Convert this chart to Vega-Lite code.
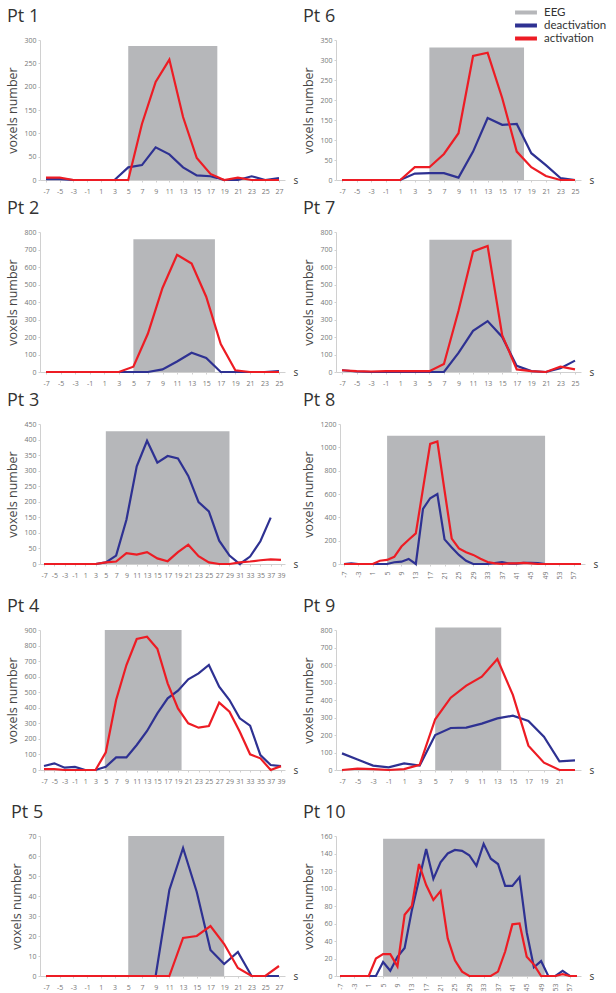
{
  "padding": {"left": 6, "top": 6, "right": 2, "bottom": 2},
  "datasets": {
    "eeg": [
      {"pt": "Pt 1", "series": "EEG", "s": 5, "s2": 18, "v": 287},
      {"pt": "Pt 2", "series": "EEG", "s": 5, "s2": 16.2, "v": 758},
      {"pt": "Pt 3", "series": "EEG", "s": 5, "s2": 29, "v": 427},
      {"pt": "Pt 4", "series": "EEG", "s": 4.8, "s2": 19.7, "v": 900},
      {"pt": "Pt 5", "series": "EEG", "s": 5, "s2": 19, "v": 70},
      {"pt": "Pt 6", "series": "EEG", "s": 5, "s2": 18, "v": 331},
      {"pt": "Pt 7", "series": "EEG", "s": 5, "s2": 16.3, "v": 756},
      {"pt": "Pt 8", "series": "EEG", "s": 5, "s2": 49, "v": 1100},
      {"pt": "Pt 9", "series": "EEG", "s": 5, "s2": 13.5, "v": 815},
      {"pt": "Pt 10", "series": "EEG", "s": 5, "s2": 50, "v": 157}
    ],
    "curves": [
      {"pt": "Pt 1", "s": -7, "deactivation": 2, "activation": 5},
      {"pt": "Pt 1", "s": -5, "deactivation": 2, "activation": 5},
      {"pt": "Pt 1", "s": -3, "deactivation": 0, "activation": 0},
      {"pt": "Pt 1", "s": -1, "deactivation": 0, "activation": 0},
      {"pt": "Pt 1", "s": 1, "deactivation": 0, "activation": 0},
      {"pt": "Pt 1", "s": 3, "deactivation": 0, "activation": 0},
      {"pt": "Pt 1", "s": 5, "deactivation": 27, "activation": 0},
      {"pt": "Pt 1", "s": 7, "deactivation": 32, "activation": 120},
      {"pt": "Pt 1", "s": 9, "deactivation": 70, "activation": 210},
      {"pt": "Pt 1", "s": 11, "deactivation": 55, "activation": 258},
      {"pt": "Pt 1", "s": 13, "deactivation": 27, "activation": 135},
      {"pt": "Pt 1", "s": 15, "deactivation": 10, "activation": 47},
      {"pt": "Pt 1", "s": 17, "deactivation": 8, "activation": 13},
      {"pt": "Pt 1", "s": 19, "deactivation": 0, "activation": 0},
      {"pt": "Pt 1", "s": 21, "deactivation": 0, "activation": 5},
      {"pt": "Pt 1", "s": 23, "deactivation": 8, "activation": 0},
      {"pt": "Pt 1", "s": 25, "deactivation": 0, "activation": 0},
      {"pt": "Pt 1", "s": 27, "deactivation": 4, "activation": 0},
      {"pt": "Pt 2", "s": -7, "deactivation": 0, "activation": 0},
      {"pt": "Pt 2", "s": -5, "deactivation": 0, "activation": 0},
      {"pt": "Pt 2", "s": -3, "deactivation": 0, "activation": 0},
      {"pt": "Pt 2", "s": -1, "deactivation": 0, "activation": 0},
      {"pt": "Pt 2", "s": 1, "deactivation": 0, "activation": 0},
      {"pt": "Pt 2", "s": 3, "deactivation": 0, "activation": 0},
      {"pt": "Pt 2", "s": 5, "deactivation": 0, "activation": 30},
      {"pt": "Pt 2", "s": 7, "deactivation": 0, "activation": 220},
      {"pt": "Pt 2", "s": 9, "deactivation": 15, "activation": 480},
      {"pt": "Pt 2", "s": 11, "deactivation": 60, "activation": 670},
      {"pt": "Pt 2", "s": 13, "deactivation": 110, "activation": 620},
      {"pt": "Pt 2", "s": 15, "deactivation": 80, "activation": 430},
      {"pt": "Pt 2", "s": 17, "deactivation": 0, "activation": 160},
      {"pt": "Pt 2", "s": 19, "deactivation": 0, "activation": 10},
      {"pt": "Pt 2", "s": 21, "deactivation": 0, "activation": 0},
      {"pt": "Pt 2", "s": 23, "deactivation": 0, "activation": 0},
      {"pt": "Pt 2", "s": 25, "deactivation": 5, "activation": 0},
      {"pt": "Pt 3", "s": -7, "deactivation": 0, "activation": 0},
      {"pt": "Pt 3", "s": -5, "deactivation": 0, "activation": 0},
      {"pt": "Pt 3", "s": -3, "deactivation": 0, "activation": 0},
      {"pt": "Pt 3", "s": -1, "deactivation": 0, "activation": 0},
      {"pt": "Pt 3", "s": 1, "deactivation": 0, "activation": 0},
      {"pt": "Pt 3", "s": 3, "deactivation": 0, "activation": 0},
      {"pt": "Pt 3", "s": 5, "deactivation": 5, "activation": 5},
      {"pt": "Pt 3", "s": 7, "deactivation": 27, "activation": 8},
      {"pt": "Pt 3", "s": 9, "deactivation": 142, "activation": 35},
      {"pt": "Pt 3", "s": 11, "deactivation": 314, "activation": 30},
      {"pt": "Pt 3", "s": 13, "deactivation": 396, "activation": 38},
      {"pt": "Pt 3", "s": 15, "deactivation": 326, "activation": 18},
      {"pt": "Pt 3", "s": 17, "deactivation": 347, "activation": 9},
      {"pt": "Pt 3", "s": 19, "deactivation": 339, "activation": 38},
      {"pt": "Pt 3", "s": 21, "deactivation": 283, "activation": 62},
      {"pt": "Pt 3", "s": 23, "deactivation": 199, "activation": 25},
      {"pt": "Pt 3", "s": 25, "deactivation": 169, "activation": 5},
      {"pt": "Pt 3", "s": 27, "deactivation": 75, "activation": 0},
      {"pt": "Pt 3", "s": 29, "deactivation": 27, "activation": 0},
      {"pt": "Pt 3", "s": 31, "deactivation": 0, "activation": 5},
      {"pt": "Pt 3", "s": 33, "deactivation": 24, "activation": 8},
      {"pt": "Pt 3", "s": 35, "deactivation": 73, "activation": 12},
      {"pt": "Pt 3", "s": 37, "deactivation": 149, "activation": 15},
      {"pt": "Pt 3", "s": 39, "activation": 13},
      {"pt": "Pt 4", "s": -7, "deactivation": 26, "activation": 5},
      {"pt": "Pt 4", "s": -5, "deactivation": 43, "activation": 5},
      {"pt": "Pt 4", "s": -3, "deactivation": 15, "activation": 0},
      {"pt": "Pt 4", "s": -1, "deactivation": 20, "activation": 0},
      {"pt": "Pt 4", "s": 1, "deactivation": 0, "activation": 0},
      {"pt": "Pt 4", "s": 3, "deactivation": 0, "activation": 0},
      {"pt": "Pt 4", "s": 5, "deactivation": 21, "activation": 114},
      {"pt": "Pt 4", "s": 7, "deactivation": 81, "activation": 450},
      {"pt": "Pt 4", "s": 9, "deactivation": 81, "activation": 675},
      {"pt": "Pt 4", "s": 11, "deactivation": 161, "activation": 842},
      {"pt": "Pt 4", "s": 13, "deactivation": 251, "activation": 857},
      {"pt": "Pt 4", "s": 15, "deactivation": 364, "activation": 780},
      {"pt": "Pt 4", "s": 17, "deactivation": 461, "activation": 557},
      {"pt": "Pt 4", "s": 19, "deactivation": 510, "activation": 396},
      {"pt": "Pt 4", "s": 21, "deactivation": 583, "activation": 300},
      {"pt": "Pt 4", "s": 23, "deactivation": 621, "activation": 272},
      {"pt": "Pt 4", "s": 25, "deactivation": 675, "activation": 283},
      {"pt": "Pt 4", "s": 27, "deactivation": 536, "activation": 433},
      {"pt": "Pt 4", "s": 29, "deactivation": 450, "activation": 375},
      {"pt": "Pt 4", "s": 31, "deactivation": 332, "activation": 246},
      {"pt": "Pt 4", "s": 33, "deactivation": 285, "activation": 101},
      {"pt": "Pt 4", "s": 35, "deactivation": 96, "activation": 75},
      {"pt": "Pt 4", "s": 37, "deactivation": 32, "activation": 0},
      {"pt": "Pt 4", "s": 39, "deactivation": 25, "activation": 25},
      {"pt": "Pt 5", "s": -7, "deactivation": 0, "activation": 0},
      {"pt": "Pt 5", "s": -5, "deactivation": 0, "activation": 0},
      {"pt": "Pt 5", "s": -3, "deactivation": 0, "activation": 0},
      {"pt": "Pt 5", "s": -1, "deactivation": 0, "activation": 0},
      {"pt": "Pt 5", "s": 1, "deactivation": 0, "activation": 0},
      {"pt": "Pt 5", "s": 3, "deactivation": 0, "activation": 0},
      {"pt": "Pt 5", "s": 5, "deactivation": 0, "activation": 0},
      {"pt": "Pt 5", "s": 7, "deactivation": 0, "activation": 0},
      {"pt": "Pt 5", "s": 9, "deactivation": 0, "activation": 0},
      {"pt": "Pt 5", "s": 11, "deactivation": 43, "activation": 0},
      {"pt": "Pt 5", "s": 13, "deactivation": 64, "activation": 19},
      {"pt": "Pt 5", "s": 15, "deactivation": 42, "activation": 20},
      {"pt": "Pt 5", "s": 17, "deactivation": 13, "activation": 25},
      {"pt": "Pt 5", "s": 19, "deactivation": 6, "activation": 16},
      {"pt": "Pt 5", "s": 21, "deactivation": 12, "activation": 4},
      {"pt": "Pt 5", "s": 23, "deactivation": 0, "activation": 0},
      {"pt": "Pt 5", "s": 25, "deactivation": 0, "activation": 0},
      {"pt": "Pt 5", "s": 27, "deactivation": 0, "activation": 5},
      {"pt": "Pt 6", "s": -7, "deactivation": 0, "activation": 0},
      {"pt": "Pt 6", "s": -5, "deactivation": 0, "activation": 0},
      {"pt": "Pt 6", "s": -3, "deactivation": 0, "activation": 0},
      {"pt": "Pt 6", "s": -1, "deactivation": 0, "activation": 0},
      {"pt": "Pt 6", "s": 1, "deactivation": 0, "activation": 0},
      {"pt": "Pt 6", "s": 3, "deactivation": 16, "activation": 32},
      {"pt": "Pt 6", "s": 5, "deactivation": 17, "activation": 32},
      {"pt": "Pt 6", "s": 7, "deactivation": 17, "activation": 65},
      {"pt": "Pt 6", "s": 9, "deactivation": 6, "activation": 117},
      {"pt": "Pt 6", "s": 11, "deactivation": 71, "activation": 310},
      {"pt": "Pt 6", "s": 13, "deactivation": 155, "activation": 318},
      {"pt": "Pt 6", "s": 15, "deactivation": 138, "activation": 205},
      {"pt": "Pt 6", "s": 17, "deactivation": 140, "activation": 71},
      {"pt": "Pt 6", "s": 19, "deactivation": 67, "activation": 32},
      {"pt": "Pt 6", "s": 21, "deactivation": 37, "activation": 10},
      {"pt": "Pt 6", "s": 23, "deactivation": 5, "activation": 0},
      {"pt": "Pt 6", "s": 25, "deactivation": 0, "activation": 0},
      {"pt": "Pt 7", "s": -7, "deactivation": 10, "activation": 10},
      {"pt": "Pt 7", "s": -5, "deactivation": 3, "activation": 5},
      {"pt": "Pt 7", "s": -3, "deactivation": 0, "activation": 3},
      {"pt": "Pt 7", "s": -1, "deactivation": 0, "activation": 5},
      {"pt": "Pt 7", "s": 1, "deactivation": 0, "activation": 5},
      {"pt": "Pt 7", "s": 3, "deactivation": 0, "activation": 5},
      {"pt": "Pt 7", "s": 5, "deactivation": 0, "activation": 5},
      {"pt": "Pt 7", "s": 7, "deactivation": 0, "activation": 46},
      {"pt": "Pt 7", "s": 9, "deactivation": 109, "activation": 350},
      {"pt": "Pt 7", "s": 11, "deactivation": 235, "activation": 689},
      {"pt": "Pt 7", "s": 13, "deactivation": 291, "activation": 720},
      {"pt": "Pt 7", "s": 15, "deactivation": 200, "activation": 210},
      {"pt": "Pt 7", "s": 17, "deactivation": 35, "activation": 15},
      {"pt": "Pt 7", "s": 19, "deactivation": 5, "activation": 5},
      {"pt": "Pt 7", "s": 21, "deactivation": 0, "activation": 0},
      {"pt": "Pt 7", "s": 23, "deactivation": 22, "activation": 30},
      {"pt": "Pt 7", "s": 25, "deactivation": 65, "activation": 15},
      {"pt": "Pt 8", "s": -7, "deactivation": 0, "activation": 0},
      {"pt": "Pt 8", "s": -5, "deactivation": 5, "activation": 0},
      {"pt": "Pt 8", "s": -3, "deactivation": 0, "activation": 0},
      {"pt": "Pt 8", "s": -1, "deactivation": 0, "activation": 0},
      {"pt": "Pt 8", "s": 1, "deactivation": 0, "activation": 0},
      {"pt": "Pt 8", "s": 3, "deactivation": 0, "activation": 28},
      {"pt": "Pt 8", "s": 5, "deactivation": 0, "activation": 35},
      {"pt": "Pt 8", "s": 7, "deactivation": 15, "activation": 62},
      {"pt": "Pt 8", "s": 9, "deactivation": 20, "activation": 150},
      {"pt": "Pt 8", "s": 11, "deactivation": 44, "activation": 208},
      {"pt": "Pt 8", "s": 13, "deactivation": 0, "activation": 262},
      {"pt": "Pt 8", "s": 15, "deactivation": 472, "activation": 646},
      {"pt": "Pt 8", "s": 17, "deactivation": 564, "activation": 1030},
      {"pt": "Pt 8", "s": 19, "deactivation": 600, "activation": 1050},
      {"pt": "Pt 8", "s": 21, "deactivation": 211, "activation": 630},
      {"pt": "Pt 8", "s": 23, "deactivation": 142, "activation": 217},
      {"pt": "Pt 8", "s": 25, "deactivation": 78, "activation": 133},
      {"pt": "Pt 8", "s": 27, "deactivation": 28, "activation": 100},
      {"pt": "Pt 8", "s": 29, "deactivation": 0, "activation": 78},
      {"pt": "Pt 8", "s": 31, "deactivation": 0, "activation": 45},
      {"pt": "Pt 8", "s": 33, "deactivation": 0, "activation": 17},
      {"pt": "Pt 8", "s": 35, "deactivation": 8, "activation": 5},
      {"pt": "Pt 8", "s": 37, "deactivation": 17, "activation": 0},
      {"pt": "Pt 8", "s": 39, "deactivation": 3, "activation": 5},
      {"pt": "Pt 8", "s": 41, "deactivation": 3, "activation": 5},
      {"pt": "Pt 8", "s": 43, "deactivation": 10, "activation": 10},
      {"pt": "Pt 8", "s": 45, "deactivation": 10, "activation": 5},
      {"pt": "Pt 8", "s": 47, "deactivation": 8, "activation": 0},
      {"pt": "Pt 8", "s": 49, "deactivation": 0, "activation": 0},
      {"pt": "Pt 8", "s": 51, "deactivation": 0, "activation": 0},
      {"pt": "Pt 8", "s": 53, "deactivation": 0, "activation": 0},
      {"pt": "Pt 8", "s": 55, "deactivation": 0, "activation": 0},
      {"pt": "Pt 8", "s": 57, "deactivation": 0, "activation": 0},
      {"pt": "Pt 8", "s": 59, "deactivation": 0, "activation": 0},
      {"pt": "Pt 9", "s": -7, "deactivation": 95, "activation": 0},
      {"pt": "Pt 9", "s": -5, "deactivation": 60, "activation": 8},
      {"pt": "Pt 9", "s": -3, "deactivation": 25, "activation": 5},
      {"pt": "Pt 9", "s": -1, "deactivation": 15, "activation": 0},
      {"pt": "Pt 9", "s": 1, "deactivation": 38, "activation": 5},
      {"pt": "Pt 9", "s": 3, "deactivation": 25, "activation": 29},
      {"pt": "Pt 9", "s": 5, "deactivation": 200, "activation": 290},
      {"pt": "Pt 9", "s": 7, "deactivation": 240, "activation": 413},
      {"pt": "Pt 9", "s": 9, "deactivation": 242, "activation": 482},
      {"pt": "Pt 9", "s": 11, "deactivation": 265, "activation": 533},
      {"pt": "Pt 9", "s": 13, "deactivation": 295, "activation": 634},
      {"pt": "Pt 9", "s": 15, "deactivation": 310, "activation": 429},
      {"pt": "Pt 9", "s": 17, "deactivation": 280, "activation": 139},
      {"pt": "Pt 9", "s": 19, "deactivation": 190, "activation": 42},
      {"pt": "Pt 9", "s": 21, "deactivation": 50, "activation": 0},
      {"pt": "Pt 9", "s": 23, "deactivation": 55, "activation": 0},
      {"pt": "Pt 10", "s": -7, "deactivation": 0, "activation": 0},
      {"pt": "Pt 10", "s": -5, "deactivation": 0, "activation": 0},
      {"pt": "Pt 10", "s": -3, "deactivation": 0, "activation": 0},
      {"pt": "Pt 10", "s": -1, "deactivation": 0, "activation": 0},
      {"pt": "Pt 10", "s": 1, "deactivation": 0, "activation": 0},
      {"pt": "Pt 10", "s": 3, "deactivation": 0, "activation": 20},
      {"pt": "Pt 10", "s": 5, "deactivation": 16, "activation": 25},
      {"pt": "Pt 10", "s": 7, "deactivation": 6, "activation": 25},
      {"pt": "Pt 10", "s": 9, "deactivation": 22, "activation": 11},
      {"pt": "Pt 10", "s": 11, "deactivation": 32, "activation": 70},
      {"pt": "Pt 10", "s": 13, "deactivation": 75, "activation": 80},
      {"pt": "Pt 10", "s": 15, "deactivation": 110, "activation": 128},
      {"pt": "Pt 10", "s": 17, "deactivation": 145, "activation": 104},
      {"pt": "Pt 10", "s": 19, "deactivation": 111, "activation": 87},
      {"pt": "Pt 10", "s": 21, "deactivation": 130, "activation": 97},
      {"pt": "Pt 10", "s": 23, "deactivation": 140, "activation": 43},
      {"pt": "Pt 10", "s": 25, "deactivation": 144, "activation": 18},
      {"pt": "Pt 10", "s": 27, "deactivation": 143, "activation": 5},
      {"pt": "Pt 10", "s": 29, "deactivation": 138, "activation": 0},
      {"pt": "Pt 10", "s": 31, "deactivation": 126, "activation": 0},
      {"pt": "Pt 10", "s": 33, "deactivation": 151, "activation": 0},
      {"pt": "Pt 10", "s": 35, "deactivation": 134, "activation": 0},
      {"pt": "Pt 10", "s": 37, "deactivation": 128, "activation": 5},
      {"pt": "Pt 10", "s": 39, "deactivation": 103, "activation": 28},
      {"pt": "Pt 10", "s": 41, "deactivation": 103, "activation": 59},
      {"pt": "Pt 10", "s": 43, "deactivation": 113, "activation": 60},
      {"pt": "Pt 10", "s": 45, "deactivation": 50, "activation": 22},
      {"pt": "Pt 10", "s": 47, "deactivation": 10, "activation": 13},
      {"pt": "Pt 10", "s": 49, "deactivation": 17, "activation": 0},
      {"pt": "Pt 10", "s": 51, "deactivation": 0, "activation": 0},
      {"pt": "Pt 10", "s": 53, "deactivation": 0, "activation": 0},
      {"pt": "Pt 10", "s": 55, "deactivation": 6, "activation": 2},
      {"pt": "Pt 10", "s": 57, "deactivation": 0, "activation": 0},
      {"pt": "Pt 10", "s": 59, "deactivation": 0, "activation": 0}
    ]
  },
  "resolve": {"scale": {"color": "shared"}, "legend": {"color": "shared"}},
  "spacing": 18,
  "vconcat": [
    {
      "spacing": 6,
      "resolve": {"scale": {"color": "shared"}, "legend": {"color": "shared"}},
      "vconcat": [
        {
          "spacing": 4,
          "resolve": {"scale": {"color": "shared"}, "legend": {"color": "shared"}},
          "hconcat": [
            {
              "title": "Pt 1", "width": 245, "height": 140,
              "encoding": {
                "x": {"field": "s", "type": "quantitative", "scale": {"domain": [-7, 27], "padding": 6, "nice": false, "zero": false}, "axis": {"title": "s", "values": [-7,-5,-3,-1,1,3,5,7,9,11,13,15,17,19,21,23,25,27], "labelExpr": "'' + datum.value"}},
                "y": {"field": "v", "type": "quantitative", "scale": {"domain": [0, 300], "nice": false}, "axis": {"title": "voxels number", "values": [0,50,100,150,200,250,300]}},
                "color": {"field": "series", "type": "nominal", "scale": {"domain": ["EEG", "deactivation", "activation"], "range": ["#b6b7ba", "#2e3192", "#ed1c24"]}, "legend": {"orient": "none", "legendX": 473, "legendY": -34, "title": null, "symbolType": "stroke", "symbolSize": 480, "symbolStrokeWidth": 4, "labelFontSize": 11.5, "labelColor": "#333", "labelFont": "Lato", "clipHeight": 13, "rowPadding": 0, "labelOffset": 5}}
              },
              "layer": [
                {"data": {"name": "eeg"}, "transform": [{"filter": "datum.pt === 'Pt 1'"}], "mark": {"type": "rect"}, "encoding": {"x2": {"field": "s2"}, "y2": {"datum": 0}}},
                {"data": {"name": "curves"}, "transform": [{"filter": "datum.pt === 'Pt 1'"}, {"fold": ["deactivation", "activation"], "as": ["series", "v"]}], "mark": {"type": "line", "strokeWidth": 2.2}}
              ]
            },
            {
              "title": "Pt 6", "width": 245, "height": 140,
              "encoding": {
                "x": {"field": "s", "type": "quantitative", "scale": {"domain": [-7, 25], "padding": 6, "nice": false, "zero": false}, "axis": {"title": "s", "values": [-7,-5,-3,-1,1,3,5,7,9,11,13,15,17,19,21,23,25], "labelExpr": "'' + datum.value"}},
                "y": {"field": "v", "type": "quantitative", "scale": {"domain": [0, 350], "nice": false}, "axis": {"title": "voxels number", "values": [0,50,100,150,200,250,300,350]}},
                "color": {"field": "series", "type": "nominal", "scale": {"domain": ["EEG", "deactivation", "activation"], "range": ["#b6b7ba", "#2e3192", "#ed1c24"]}, "legend": {"orient": "none", "legendX": 473, "legendY": -34, "title": null, "symbolType": "stroke", "symbolSize": 480, "symbolStrokeWidth": 4, "labelFontSize": 11.5, "labelColor": "#333", "labelFont": "Lato", "clipHeight": 13, "rowPadding": 0, "labelOffset": 5}}
              },
              "layer": [
                {"data": {"name": "eeg"}, "transform": [{"filter": "datum.pt === 'Pt 6'"}], "mark": {"type": "rect"}, "encoding": {"x2": {"field": "s2"}, "y2": {"datum": 0}}},
                {"data": {"name": "curves"}, "transform": [{"filter": "datum.pt === 'Pt 6'"}, {"fold": ["deactivation", "activation"], "as": ["series", "v"]}], "mark": {"type": "line", "strokeWidth": 2.2}}
              ]
            }
          ]
        },
        {
          "spacing": 4,
          "resolve": {"scale": {"color": "shared"}, "legend": {"color": "shared"}},
          "hconcat": [
            {
              "title": "Pt 2", "width": 245, "height": 140,
              "encoding": {
                "x": {"field": "s", "type": "quantitative", "scale": {"domain": [-7, 25], "padding": 6, "nice": false, "zero": false}, "axis": {"title": "s", "values": [-7,-5,-3,-1,1,3,5,7,9,11,13,15,17,19,21,23,25], "labelExpr": "'' + datum.value"}},
                "y": {"field": "v", "type": "quantitative", "scale": {"domain": [0, 800], "nice": false}, "axis": {"title": "voxels number", "values": [0,100,200,300,400,500,600,700,800]}},
                "color": {"field": "series", "type": "nominal", "scale": {"domain": ["EEG", "deactivation", "activation"], "range": ["#b6b7ba", "#2e3192", "#ed1c24"]}, "legend": {"orient": "none", "legendX": 473, "legendY": -34, "title": null, "symbolType": "stroke", "symbolSize": 480, "symbolStrokeWidth": 4, "labelFontSize": 11.5, "labelColor": "#333", "labelFont": "Lato", "clipHeight": 13, "rowPadding": 0, "labelOffset": 5}}
              },
              "layer": [
                {"data": {"name": "eeg"}, "transform": [{"filter": "datum.pt === 'Pt 2'"}], "mark": {"type": "rect"}, "encoding": {"x2": {"field": "s2"}, "y2": {"datum": 0}}},
                {"data": {"name": "curves"}, "transform": [{"filter": "datum.pt === 'Pt 2'"}, {"fold": ["deactivation", "activation"], "as": ["series", "v"]}], "mark": {"type": "line", "strokeWidth": 2.2}}
              ]
            },
            {
              "title": "Pt 7", "width": 245, "height": 140,
              "encoding": {
                "x": {"field": "s", "type": "quantitative", "scale": {"domain": [-7, 25], "padding": 6, "nice": false, "zero": false}, "axis": {"title": "s", "values": [-7,-5,-3,-1,1,3,5,7,9,11,13,15,17,19,21,23,25], "labelExpr": "'' + datum.value"}},
                "y": {"field": "v", "type": "quantitative", "scale": {"domain": [0, 800], "nice": false}, "axis": {"title": "voxels number", "values": [0,100,200,300,400,500,600,700,800]}},
                "color": {"field": "series", "type": "nominal", "scale": {"domain": ["EEG", "deactivation", "activation"], "range": ["#b6b7ba", "#2e3192", "#ed1c24"]}, "legend": {"orient": "none", "legendX": 473, "legendY": -34, "title": null, "symbolType": "stroke", "symbolSize": 480, "symbolStrokeWidth": 4, "labelFontSize": 11.5, "labelColor": "#333", "labelFont": "Lato", "clipHeight": 13, "rowPadding": 0, "labelOffset": 5}}
              },
              "layer": [
                {"data": {"name": "eeg"}, "transform": [{"filter": "datum.pt === 'Pt 7'"}], "mark": {"type": "rect"}, "encoding": {"x2": {"field": "s2"}, "y2": {"datum": 0}}},
                {"data": {"name": "curves"}, "transform": [{"filter": "datum.pt === 'Pt 7'"}, {"fold": ["deactivation", "activation"], "as": ["series", "v"]}], "mark": {"type": "line", "strokeWidth": 2.2}}
              ]
            }
          ]
        },
        {
          "spacing": 4,
          "resolve": {"scale": {"color": "shared"}, "legend": {"color": "shared"}},
          "hconcat": [
            {
              "title": "Pt 3", "width": 245, "height": 140,
              "encoding": {
                "x": {"field": "s", "type": "quantitative", "scale": {"domain": [-7, 39], "padding": 4, "nice": false, "zero": false}, "axis": {"title": "s", "values": [-7,-5,-3,-1,1,3,5,7,9,11,13,15,17,19,21,23,25,27,29,31,33,35,37,39], "labelExpr": "'' + datum.value"}},
                "y": {"field": "v", "type": "quantitative", "scale": {"domain": [0, 450], "nice": false}, "axis": {"title": "voxels number", "values": [0,50,100,150,200,250,300,350,400,450]}},
                "color": {"field": "series", "type": "nominal", "scale": {"domain": ["EEG", "deactivation", "activation"], "range": ["#b6b7ba", "#2e3192", "#ed1c24"]}, "legend": {"orient": "none", "legendX": 473, "legendY": -34, "title": null, "symbolType": "stroke", "symbolSize": 480, "symbolStrokeWidth": 4, "labelFontSize": 11.5, "labelColor": "#333", "labelFont": "Lato", "clipHeight": 13, "rowPadding": 0, "labelOffset": 5}}
              },
              "layer": [
                {"data": {"name": "eeg"}, "transform": [{"filter": "datum.pt === 'Pt 3'"}], "mark": {"type": "rect"}, "encoding": {"x2": {"field": "s2"}, "y2": {"datum": 0}}},
                {"data": {"name": "curves"}, "transform": [{"filter": "datum.pt === 'Pt 3'"}, {"fold": ["deactivation", "activation"], "as": ["series", "v"]}], "mark": {"type": "line", "strokeWidth": 2.2}}
              ]
            },
            {
              "title": "Pt 8", "width": 245, "height": 140,
              "encoding": {
                "x": {"field": "s", "type": "quantitative", "scale": {"domain": [-7, 59], "padding": 4, "nice": false, "zero": false}, "axis": {"title": "s", "values": [-7,-3,1,5,9,13,17,21,25,29,33,37,41,45,49,53,57], "labelAngle": -90, "labelExpr": "'' + datum.value"}},
                "y": {"field": "v", "type": "quantitative", "scale": {"domain": [0, 1200], "nice": false}, "axis": {"title": "voxels number", "values": [0,200,400,600,800,1000,1200], "labelExpr": "'' + datum.value"}},
                "color": {"field": "series", "type": "nominal", "scale": {"domain": ["EEG", "deactivation", "activation"], "range": ["#b6b7ba", "#2e3192", "#ed1c24"]}, "legend": {"orient": "none", "legendX": 473, "legendY": -34, "title": null, "symbolType": "stroke", "symbolSize": 480, "symbolStrokeWidth": 4, "labelFontSize": 11.5, "labelColor": "#333", "labelFont": "Lato", "clipHeight": 13, "rowPadding": 0, "labelOffset": 5}}
              },
              "layer": [
                {"data": {"name": "eeg"}, "transform": [{"filter": "datum.pt === 'Pt 8'"}], "mark": {"type": "rect"}, "encoding": {"x2": {"field": "s2"}, "y2": {"datum": 0}}},
                {"data": {"name": "curves"}, "transform": [{"filter": "datum.pt === 'Pt 8'"}, {"fold": ["deactivation", "activation"], "as": ["series", "v"]}], "mark": {"type": "line", "strokeWidth": 2.2}}
              ]
            }
          ]
        }
      ]
    },
    {
      "spacing": 20,
      "resolve": {"scale": {"color": "shared"}, "legend": {"color": "shared"}},
      "vconcat": [
        {
          "spacing": 4,
          "resolve": {"scale": {"color": "shared"}, "legend": {"color": "shared"}},
          "hconcat": [
            {
              "title": "Pt 4", "width": 245, "height": 140,
              "encoding": {
                "x": {"field": "s", "type": "quantitative", "scale": {"domain": [-7, 39], "padding": 4, "nice": false, "zero": false}, "axis": {"title": "s", "values": [-7,-5,-3,-1,1,3,5,7,9,11,13,15,17,19,21,23,25,27,29,31,33,35,37,39], "labelExpr": "'' + datum.value"}},
                "y": {"field": "v", "type": "quantitative", "scale": {"domain": [0, 900], "nice": false}, "axis": {"title": "voxels number", "values": [0,100,200,300,400,500,600,700,800,900]}},
                "color": {"field": "series", "type": "nominal", "scale": {"domain": ["EEG", "deactivation", "activation"], "range": ["#b6b7ba", "#2e3192", "#ed1c24"]}, "legend": {"orient": "none", "legendX": 473, "legendY": -34, "title": null, "symbolType": "stroke", "symbolSize": 480, "symbolStrokeWidth": 4, "labelFontSize": 11.5, "labelColor": "#333", "labelFont": "Lato", "clipHeight": 13, "rowPadding": 0, "labelOffset": 5}}
              },
              "layer": [
                {"data": {"name": "eeg"}, "transform": [{"filter": "datum.pt === 'Pt 4'"}], "mark": {"type": "rect"}, "encoding": {"x2": {"field": "s2"}, "y2": {"datum": 0}}},
                {"data": {"name": "curves"}, "transform": [{"filter": "datum.pt === 'Pt 4'"}, {"fold": ["deactivation", "activation"], "as": ["series", "v"]}], "mark": {"type": "line", "strokeWidth": 2.2}}
              ]
            },
            {
              "title": "Pt 9", "width": 245, "height": 140,
              "encoding": {
                "x": {"field": "s", "type": "quantitative", "scale": {"domain": [-7, 23], "padding": 6, "nice": false, "zero": false}, "axis": {"title": "s", "values": [-7,-5,-3,-1,1,3,5,7,9,11,13,15,17,19,21], "labelExpr": "'' + datum.value"}},
                "y": {"field": "v", "type": "quantitative", "scale": {"domain": [0, 800], "nice": false}, "axis": {"title": "voxels number", "values": [0,100,200,300,400,500,600,700,800]}},
                "color": {"field": "series", "type": "nominal", "scale": {"domain": ["EEG", "deactivation", "activation"], "range": ["#b6b7ba", "#2e3192", "#ed1c24"]}, "legend": {"orient": "none", "legendX": 473, "legendY": -34, "title": null, "symbolType": "stroke", "symbolSize": 480, "symbolStrokeWidth": 4, "labelFontSize": 11.5, "labelColor": "#333", "labelFont": "Lato", "clipHeight": 13, "rowPadding": 0, "labelOffset": 5}}
              },
              "layer": [
                {"data": {"name": "eeg"}, "transform": [{"filter": "datum.pt === 'Pt 9'"}], "mark": {"type": "rect"}, "encoding": {"x2": {"field": "s2"}, "y2": {"datum": 0}}},
                {"data": {"name": "curves"}, "transform": [{"filter": "datum.pt === 'Pt 9'"}, {"fold": ["deactivation", "activation"], "as": ["series", "v"]}], "mark": {"type": "line", "strokeWidth": 2.2}}
              ]
            }
          ]
        },
        {
          "spacing": 4,
          "resolve": {"scale": {"color": "shared"}, "legend": {"color": "shared"}},
          "hconcat": [
            {
              "title": "Pt 5", "width": 245, "height": 140,
              "encoding": {
                "x": {"field": "s", "type": "quantitative", "scale": {"domain": [-7, 27], "padding": 6, "nice": false, "zero": false}, "axis": {"title": "s", "values": [-7,-5,-3,-1,1,3,5,7,9,11,13,15,17,19,21,23,25,27], "labelExpr": "'' + datum.value"}},
                "y": {"field": "v", "type": "quantitative", "scale": {"domain": [0, 70], "nice": false}, "axis": {"title": "voxels number", "values": [0,10,20,30,40,50,60,70]}},
                "color": {"field": "series", "type": "nominal", "scale": {"domain": ["EEG", "deactivation", "activation"], "range": ["#b6b7ba", "#2e3192", "#ed1c24"]}, "legend": {"orient": "none", "legendX": 473, "legendY": -34, "title": null, "symbolType": "stroke", "symbolSize": 480, "symbolStrokeWidth": 4, "labelFontSize": 11.5, "labelColor": "#333", "labelFont": "Lato", "clipHeight": 13, "rowPadding": 0, "labelOffset": 5}}
              },
              "layer": [
                {"data": {"name": "eeg"}, "transform": [{"filter": "datum.pt === 'Pt 5'"}], "mark": {"type": "rect"}, "encoding": {"x2": {"field": "s2"}, "y2": {"datum": 0}}},
                {"data": {"name": "curves"}, "transform": [{"filter": "datum.pt === 'Pt 5'"}, {"fold": ["deactivation", "activation"], "as": ["series", "v"]}], "mark": {"type": "line", "strokeWidth": 2.2}}
              ]
            },
            {
              "title": "Pt 10", "width": 245, "height": 140,
              "encoding": {
                "x": {"field": "s", "type": "quantitative", "scale": {"domain": [-7, 59], "padding": 4, "nice": false, "zero": false}, "axis": {"title": "s", "values": [-7,-3,1,5,9,13,17,21,25,29,33,37,41,45,49,53,57], "labelAngle": -90, "labelExpr": "'' + datum.value"}},
                "y": {"field": "v", "type": "quantitative", "scale": {"domain": [0, 160], "nice": false}, "axis": {"title": "voxels number", "values": [0,20,40,60,80,100,120,140,160]}},
                "color": {"field": "series", "type": "nominal", "scale": {"domain": ["EEG", "deactivation", "activation"], "range": ["#b6b7ba", "#2e3192", "#ed1c24"]}, "legend": {"orient": "none", "legendX": 473, "legendY": -34, "title": null, "symbolType": "stroke", "symbolSize": 480, "symbolStrokeWidth": 4, "labelFontSize": 11.5, "labelColor": "#333", "labelFont": "Lato", "clipHeight": 13, "rowPadding": 0, "labelOffset": 5}}
              },
              "layer": [
                {"data": {"name": "eeg"}, "transform": [{"filter": "datum.pt === 'Pt 10'"}], "mark": {"type": "rect"}, "encoding": {"x2": {"field": "s2"}, "y2": {"datum": 0}}},
                {"data": {"name": "curves"}, "transform": [{"filter": "datum.pt === 'Pt 10'"}, {"fold": ["deactivation", "activation"], "as": ["series", "v"]}], "mark": {"type": "line", "strokeWidth": 2.2}}
              ]
            }
          ]
        }
      ]
    }
  ],
  "config": {
    "view": {"stroke": null},
    "font": "Open Sans",
    "title": {"anchor": "start", "fontSize": 18, "fontWeight": "normal", "color": "#333", "offset": 10, "font": "Open Sans"},
    "axis": {"grid": false, "labelFont": "Open Sans", "labelFontSize": 7, "labelColor": "#777", "domainColor": "#d0d0d0", "tickColor": "#d0d0d0", "tickSize": 2, "labelPadding": 2, "titleFont": "Open Sans", "titleFontWeight": "normal"},
    "axisY": {"titleFontSize": 12.5, "titleColor": "#444", "titlePadding": 4},
    "axisX": {"titleFontSize": 10, "titleColor": "#333", "titleAngle": 0, "titleAlign": "left", "titleBaseline": "middle", "titleX": 253, "titleY": 0, "labelAngle": 0, "labelOverlap": false, "labelPadding": 5}
  }
}
